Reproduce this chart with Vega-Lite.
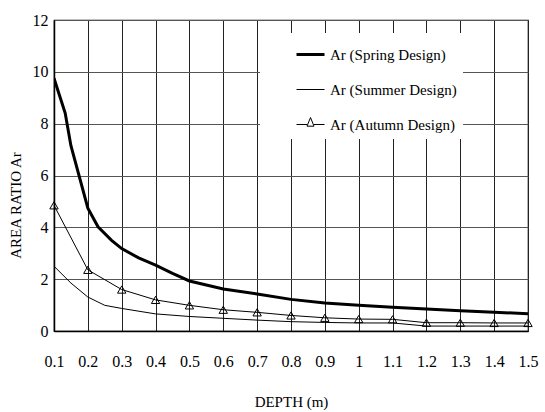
{
  "$schema": "https://vega.github.io/schema/vega-lite/v6.json",
  "width": 474,
  "height": 311,
  "autosize": {"type": "none"},
  "padding": {"left": 54, "top": 20, "right": 17, "bottom": 81},
  "background": "white",
  "config": {
    "font": "Times New Roman, Liberation Serif, Times, DejaVu Serif, serif",
    "view": {"stroke": "black", "strokeWidth": 1.2},
    "axis": {
      "labelFont": "Times New Roman, Liberation Serif, Times, DejaVu Serif, serif",
      "titleFont": "Times New Roman, Liberation Serif, Times, DejaVu Serif, serif",
      "labelFontSize": 16,
      "titleFontSize": 15,
      "labelColor": "black",
      "titleColor": "black",
      "titleFontWeight": "normal",
      "domainColor": "black",
      "domainWidth": 1.5,
      "ticks": false,
      "gridColor": "#222",
      "gridOpacity": 1,
      "gridWidth": 1
    }
  },
  "data": {
    "values": [
      {"depth": 0.1, "ar": 9.75, "series": "Ar (Spring Design)"},
      {"depth": 0.133, "ar": 8.41, "series": "Ar (Spring Design)"},
      {"depth": 0.15, "ar": 7.15, "series": "Ar (Spring Design)"},
      {"depth": 0.2, "ar": 4.74, "series": "Ar (Spring Design)"},
      {"depth": 0.23, "ar": 4.02, "series": "Ar (Spring Design)"},
      {"depth": 0.27, "ar": 3.5, "series": "Ar (Spring Design)"},
      {"depth": 0.3, "ar": 3.18, "series": "Ar (Spring Design)"},
      {"depth": 0.35, "ar": 2.82, "series": "Ar (Spring Design)"},
      {"depth": 0.4, "ar": 2.54, "series": "Ar (Spring Design)"},
      {"depth": 0.45, "ar": 2.22, "series": "Ar (Spring Design)"},
      {"depth": 0.5, "ar": 1.93, "series": "Ar (Spring Design)"},
      {"depth": 0.6, "ar": 1.62, "series": "Ar (Spring Design)"},
      {"depth": 0.7, "ar": 1.43, "series": "Ar (Spring Design)"},
      {"depth": 0.8, "ar": 1.22, "series": "Ar (Spring Design)"},
      {"depth": 0.9, "ar": 1.08, "series": "Ar (Spring Design)"},
      {"depth": 1.0, "ar": 0.99, "series": "Ar (Spring Design)"},
      {"depth": 1.1, "ar": 0.92, "series": "Ar (Spring Design)"},
      {"depth": 1.2, "ar": 0.85, "series": "Ar (Spring Design)"},
      {"depth": 1.3, "ar": 0.78, "series": "Ar (Spring Design)"},
      {"depth": 1.4, "ar": 0.72, "series": "Ar (Spring Design)"},
      {"depth": 1.5, "ar": 0.67, "series": "Ar (Spring Design)"},
      {"depth": 0.1, "ar": 2.5, "series": "Ar (Summer Design)"},
      {"depth": 0.15, "ar": 1.85, "series": "Ar (Summer Design)"},
      {"depth": 0.2, "ar": 1.31, "series": "Ar (Summer Design)"},
      {"depth": 0.25, "ar": 0.99, "series": "Ar (Summer Design)"},
      {"depth": 0.3, "ar": 0.87, "series": "Ar (Summer Design)"},
      {"depth": 0.4, "ar": 0.66, "series": "Ar (Summer Design)"},
      {"depth": 0.5, "ar": 0.56, "series": "Ar (Summer Design)"},
      {"depth": 0.6, "ar": 0.49, "series": "Ar (Summer Design)"},
      {"depth": 0.7, "ar": 0.42, "series": "Ar (Summer Design)"},
      {"depth": 0.8, "ar": 0.36, "series": "Ar (Summer Design)"},
      {"depth": 0.9, "ar": 0.33, "series": "Ar (Summer Design)"},
      {"depth": 1.0, "ar": 0.31, "series": "Ar (Summer Design)"},
      {"depth": 1.1, "ar": 0.31, "series": "Ar (Summer Design)"},
      {"depth": 1.2, "ar": 0.19, "series": "Ar (Summer Design)"},
      {"depth": 1.3, "ar": 0.19, "series": "Ar (Summer Design)"},
      {"depth": 1.4, "ar": 0.19, "series": "Ar (Summer Design)"},
      {"depth": 1.5, "ar": 0.19, "series": "Ar (Summer Design)"},
      {"depth": 0.1, "ar": 4.85, "series": "Ar (Autumn Design)"},
      {"depth": 0.2, "ar": 2.36, "series": "Ar (Autumn Design)"},
      {"depth": 0.3, "ar": 1.6, "series": "Ar (Autumn Design)"},
      {"depth": 0.4, "ar": 1.2, "series": "Ar (Autumn Design)"},
      {"depth": 0.5, "ar": 0.99, "series": "Ar (Autumn Design)"},
      {"depth": 0.6, "ar": 0.82, "series": "Ar (Autumn Design)"},
      {"depth": 0.7, "ar": 0.72, "series": "Ar (Autumn Design)"},
      {"depth": 0.8, "ar": 0.6, "series": "Ar (Autumn Design)"},
      {"depth": 0.9, "ar": 0.51, "series": "Ar (Autumn Design)"},
      {"depth": 1.0, "ar": 0.46, "series": "Ar (Autumn Design)"},
      {"depth": 1.1, "ar": 0.45, "series": "Ar (Autumn Design)"},
      {"depth": 1.2, "ar": 0.32, "series": "Ar (Autumn Design)"},
      {"depth": 1.3, "ar": 0.32, "series": "Ar (Autumn Design)"},
      {"depth": 1.4, "ar": 0.31, "series": "Ar (Autumn Design)"},
      {"depth": 1.5, "ar": 0.31, "series": "Ar (Autumn Design)"}
    ]
  },
  "encoding": {
    "x": {
      "field": "depth",
      "type": "quantitative",
      "scale": {"domain": [0.1, 1.5], "nice": false, "zero": false},
      "axis": {
        "title": "DEPTH (m)",
        "values": [0.1, 0.2, 0.3, 0.4, 0.5, 0.6, 0.7, 0.8, 0.9, 1.0, 1.1, 1.2, 1.3, 1.4, 1.5],
        "format": "~g",
        "labelPadding": 22,
        "labelFlush": false,
        "titleY": 70,
        "titleBaseline": "middle"
      }
    },
    "y": {
      "field": "ar",
      "type": "quantitative",
      "scale": {"domain": [0, 12], "nice": false},
      "axis": {
        "title": "AREA RATIO Ar",
        "values": [0, 2, 4, 6, 8, 10, 12],
        "labelPadding": 6,
        "titleX": -39,
        "titleY": 185,
        "titleAlign": "center",
        "titleBaseline": "middle",
        "titleAngle": -90,
        "gridColor": "#555"
      }
    }
  },
  "layer": [
    {
      "mark": {"type": "line", "clip": true},
      "encoding": {
        "color": {
          "field": "series",
          "type": "nominal",
          "scale": {
            "domain": ["Ar (Spring Design)", "Ar (Summer Design)", "Ar (Autumn Design)"],
            "range": ["black", "black", "black"]
          },
          "legend": {
            "title": null,
            "orient": "none",
            "legendX": 206,
            "legendY": 13,
            "fillColor": "white",
            "padding": 6,
            "symbolType": "stroke",
            "symbolSize": 784,
            "symbolOffset": 29,
            "symbolStrokeWidth": 1,
            "rowPadding": 12,
            "labelOffset": 4,
            "labelFont": "Times New Roman, Liberation Serif, Times, DejaVu Serif, serif",
            "labelFontSize": 15,
            "labelColor": "black",
            "labelLimit": 300,
            "encode": {
              "symbols": {
                "update": {
                  "strokeWidth": {"signal": "datum.value === 'Ar (Spring Design)' ? 3 : 1"},
                  "shape": {"signal": "datum.value === 'Ar (Autumn Design)' ? 'M-1,0H-0.25M0.25,0H1M0,-0.5L0.25,0.12H-0.25Z' : 'stroke'"},
                  "stroke": {"value": "black"},
                  "fill": {"value": "transparent"}
                }
              }
            }
          }
        },
        "strokeWidth": {
          "field": "series",
          "type": "nominal",
          "scale": {
            "type": "ordinal",
            "domain": ["Ar (Spring Design)", "Ar (Summer Design)", "Ar (Autumn Design)"],
            "range": [3, 1, 1]
          },
          "legend": null
        }
      }
    },
    {
      "transform": [{"filter": "datum.series === 'Ar (Autumn Design)'"}],
      "mark": {"type": "point", "shape": "triangle-up", "size": 70, "filled": false, "stroke": "black", "strokeWidth": 1, "opacity": 1}
    }
  ]
}
